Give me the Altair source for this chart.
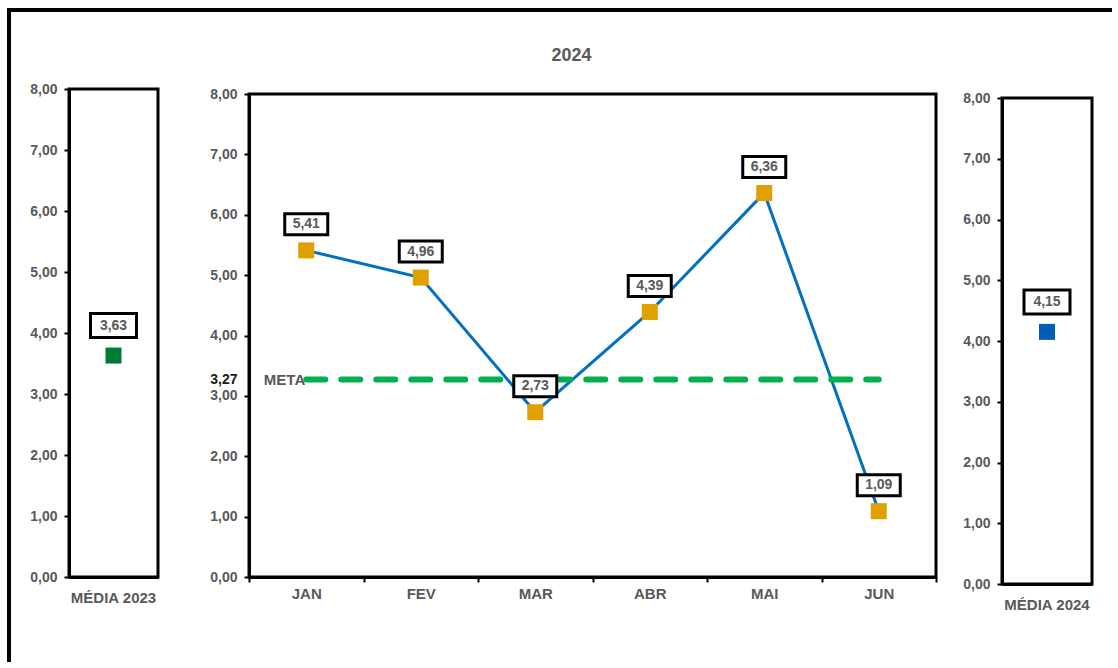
import altair as alt
import pandas as pd

# ---- data ----
months = ["JAN", "FEV", "MAR", "ABR", "MAI", "JUN"]
values_2024 = [5.41, 4.96, 2.73, 4.39, 6.36, 1.09]
meta_value = 3.27
meta_label = "META"
left_cat = ["MÉDIA 2023"]
left_value = [3.63]
right_cat = ["MÉDIA 2024"]
right_value = [4.15]
y_ticks = [0, 1, 2, 3, 4, 5, 6, 7, 8]
title_text = "2024"

FONT = "Liberation Sans, Arial, sans-serif"
GRAY = "#595959"
LABEL_EXPR = "replace(format(datum.value, '.2f'), '.', ',')"


def fmt(v):
    return f"{v:.2f}".replace(".", ",")


main_df = pd.DataFrame({
    "mes": months,
    "valor": values_2024,
    "rotulo": [fmt(v) for v in values_2024],
    "meta": [meta_value] * len(months),
    "meta_txt": [meta_label] * len(months),
})
left_df = pd.DataFrame({"cat": left_cat, "valor": left_value,
                        "rotulo": [fmt(v) for v in left_value]})
right_df = pd.DataFrame({"cat": right_cat, "valor": right_value,
                         "rotulo": [fmt(v) for v in right_value]})
frame_df = pd.DataFrame({"valor": [8], "base": [0]})


def y_axis(center=False):
    kw = dict(title=None, values=y_ticks, labelExpr=LABEL_EXPR, grid=False,
              domainColor="black", domainWidth=3, tickColor="black", tickWidth=2,
              tickSize=5, labelPadding=7, labelFont=FONT, labelFontWeight="bold",
              labelFontSize=14, labelColor=GRAY)
    if center:
        kw["values"] = [0, 1, 2, 3, meta_value, 4, 5, 6, 7, 8]
        kw["labelOverlap"] = False
        kw["labelColor"] = alt.condition(f"datum.value == {meta_value}",
                                         alt.value("#1a1a1a"), alt.value(GRAY))
        kw["tickOpacity"] = alt.condition(f"datum.value == {meta_value}",
                                          alt.value(0), alt.value(1))
    return alt.Axis(**kw)


def Y(field, rng, center=False):
    return alt.Y(f"{field}:Q",
                 scale=alt.Scale(domain=[0, 8], nice=False, zero=True, range=rng),
                 axis=y_axis(center))


def box_path(offset, w, h):
    r = w / 2.0
    top = -(offset + h / 2.0) / r
    bot = -(offset - h / 2.0) / r
    return f"M-1,{top:.4f}H1V{bot:.4f}H-1Z", w * w


# ---------------- center panel ----------------
CW, CH = 687, 488
c_range = [488, 5]
xc = alt.X("mes:N", sort=months,
           scale=alt.Scale(type="band", paddingInner=0, paddingOuter=0),
           axis=alt.Axis(title=None, labelAngle=0, tickBand="extent", grid=False,
                         domainColor="black", domainWidth=3, tickColor="black",
                         tickWidth=2, tickSize=5, labelPadding=4, labelFont=FONT,
                         labelFontWeight="bold", labelFontSize=15, labelColor=GRAY))

c_base = alt.Chart(main_df)
c_frame = alt.Chart(frame_df).mark_rect(fillOpacity=0, stroke="black", strokeWidth=3).encode(
    x=alt.value(0), x2=alt.value(CW), y=Y("valor", c_range, True), y2="base:Q")
c_line = c_base.mark_line(color="#0070C0", strokeWidth=3).encode(
    x=xc, y=Y("valor", c_range, True))
c_meta = c_base.mark_line(color="#00B050", strokeWidth=6, strokeDash=[19, 16],
                          strokeCap="round").encode(x=xc, y=Y("meta", c_range, True))
c_meta_txt = c_base.mark_text(align="right", baseline="middle", dx=-1, font=FONT,
                              fontWeight="bold", fontSize=15, color=GRAY).encode(
    x=xc, y=Y("meta", c_range, True), text="meta_txt:N").transform_filter(
    alt.datum.mes == months[0])
c_pts = c_base.mark_square(size=256, color="#E0A000", opacity=1).encode(
    x=xc, y=Y("valor", c_range, True))
cpath, csize = box_path(26, 43, 21)
c_box = c_base.mark_point(shape=cpath, size=csize, filled=True, fill="white",
                          stroke="black", strokeWidth=3, opacity=1).encode(
    x=xc, y=Y("valor", c_range, True))
c_txt = c_base.mark_text(dy=-26, baseline="middle", font=FONT, fontWeight="bold",
                         fontSize=14, color=GRAY).encode(
    x=xc, y=Y("valor", c_range, True), text="rotulo:N")

center = alt.layer(c_frame, c_line, c_meta, c_meta_txt, c_pts, c_box, c_txt).properties(
    width=CW, height=CH,
    title=alt.TitleParams(title_text, frame="group", anchor="middle", dx=-21, offset=8,
                          baseline="alphabetic", font=FONT, fontSize=18,
                          fontWeight="bold", color=GRAY))


# ---------------- side panels ----------------
def side_panel(df, rng, height, color, frame_w, panel_w, extra=None):
    xs = alt.X("cat:N",
               scale=alt.Scale(type="band", range=[0, frame_w], paddingInner=0,
                               paddingOuter=0),
               axis=alt.Axis(title=None, labelAngle=0, ticks=False, grid=False,
                             domainColor="black", domainWidth=3, labelPadding=13,
                             labelFont=FONT, labelFontWeight="bold",
                             labelFontSize=15, labelColor=GRAY))
    base = alt.Chart(df)
    frame = alt.Chart(frame_df).mark_rect(fillOpacity=0, stroke="black",
                                          strokeWidth=3).encode(
        x=alt.value(0), x2=alt.value(frame_w), y=Y("valor", rng), y2="base:Q")
    pt = base.mark_square(size=256, color=color, opacity=1).encode(x=xs, y=Y("valor", rng))
    spath, ssize = box_path(30, 46, 24)
    box = base.mark_point(shape=spath, size=ssize, filled=True, fill="white",
                          stroke="black", strokeWidth=3, opacity=1).encode(
        x=xs, y=Y("valor", rng))
    txt = base.mark_text(dy=-30, baseline="middle", font=FONT, fontWeight="bold",
                         fontSize=14, color=GRAY).encode(
        x=xs, y=Y("valor", rng), text="rotulo:N")
    layers = [frame, pt, box, txt]
    if extra:
        layers = extra + layers
    return alt.layer(*layers).properties(width=panel_w, height=height)


# outer border lines (left and top of the whole figure)
outer_df = pd.DataFrame({"k": [0]})
outer_left = alt.Chart(outer_df).mark_rule(color="black", strokeWidth=4,
                                           strokeCap="square").encode(
    x=alt.value(-60), y=alt.value(-79), y2=alt.value(571))
outer_top = alt.Chart(outer_df).mark_rule(color="black", strokeWidth=4,
                                          strokeCap="square").encode(
    x=alt.value(-60), x2=alt.value(1041), y=alt.value(-79))

left = side_panel(left_df, [488, 0], 488, "#007A37", 89, 114,
                  extra=[outer_left, outer_top])
right = side_panel(right_df, [495, 9], 495, "#005EB8", 90, 90)

chart = alt.hconcat(left, center, right, spacing=66, bounds="flush").properties(
    padding={"left": 5, "top": 6, "right": 0, "bottom": 0}
).configure_view(stroke="transparent")

chart.save("out.html", embed_options={"renderer": "svg", "actions": False})
